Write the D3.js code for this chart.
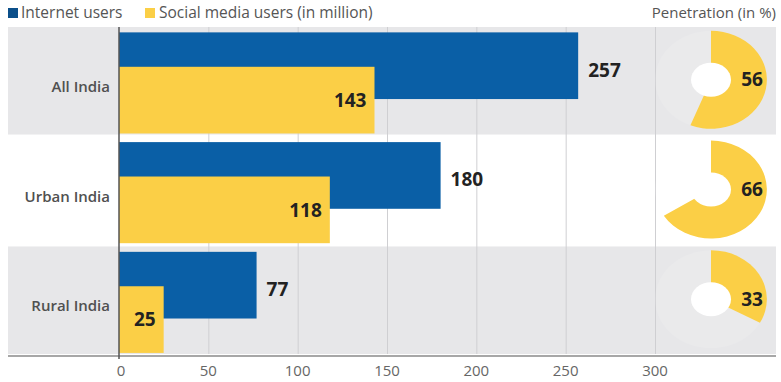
<html>

<head>
    <script src="https://d3js.org/d3.v7.min.js"></script>
    <style>
        body { margin: 0; background: #fff; }
        text { font-family: "Open Sans", sans-serif; }
        .gridlines line { stroke: #cfcfd2; }
        .gridlines .domain { display: none; }
    </style>
</head>

<body>
    <svg height="382" width="781" id="chartSvg"></svg>
    <script>
        // data
        const regions = ["All India", "Urban India", "Rural India"];
        const internetUsers = [257, 180, 77];
        const socialUsers = [143, 118, 25];
        const penetration = [56, 66, 33];
        const xTicks = [0, 50, 100, 150, 200, 250, 300];

        const svg = d3.select("#chartSvg");
        const blue = "#0a5fa6";
        const yellow = "#fbcf46";

        const xScale = d3.scaleLinear().domain([0, 300]).range([119, 655]);
        const yScale = d3.scaleBand().domain(regions).range([27, 354]).paddingInner(0.02);
        const bw = yScale.bandwidth();

        // row backgrounds
        svg.selectAll("rect.band").data(regions)
            .join("rect")
            .attr("class", "band")
            .attr("x", 8)
            .attr("width", 768)
            .attr("y", d => yScale(d))
            .attr("height", bw)
            .attr("fill", (d, i) => i % 2 == 0 ? "#e7e7e9" : "#fff");

        // gridlines
        let grid = d3.axisBottom(xScale).tickValues(xTicks.slice(1)).tickFormat("").tickSize(-(354 - 27));
        svg.append("g")
            .attr("class", "gridlines")
            .attr("transform", "translate(0,354)")
            .call(grid);

        // bars
        svg.selectAll("rect.internet").data(regions)
            .join("rect")
            .attr("class", "internet")
            .attr("x", xScale(0))
            .attr("y", d => yScale(d) + bw * 0.05)
            .attr("height", bw * 0.62)
            .attr("width", (d, i) => xScale(internetUsers[i]) - xScale(0))
            .attr("fill", blue);

        svg.selectAll("rect.social").data(regions)
            .join("rect")
            .attr("class", "social")
            .attr("x", xScale(0))
            .attr("y", d => yScale(d) + bw * 0.37)
            .attr("height", bw * 0.62)
            .attr("width", (d, i) => xScale(socialUsers[i]) - xScale(0))
            .attr("fill", yellow);

        // value labels
        svg.selectAll("text.internetVal").data(regions)
            .join("text")
            .attr("x", (d, i) => xScale(internetUsers[i]) + 10)
            .attr("y", d => yScale(d) + bw * 0.4)
            .attr("dy", "0.35em")
            .style("font-size", "19px")
            .style("font-weight", "bold")
            .style("fill", "#222")
            .text((d, i) => internetUsers[i]);

        svg.selectAll("text.socialVal").data(regions)
            .join("text")
            .attr("x", (d, i) => xScale(socialUsers[i]) - 8)
            .attr("y", d => yScale(d) + bw * 0.68)
            .attr("dy", "0.35em")
            .attr("text-anchor", "end")
            .style("font-size", "19px")
            .style("font-weight", "bold")
            .style("fill", "#222")
            .text((d, i) => socialUsers[i]);

        // category labels
        svg.selectAll("text.cat").data(regions)
            .join("text")
            .attr("x", 110)
            .attr("y", d => yScale(d) + bw / 2 + 6)
            .attr("dy", "0.35em")
            .attr("text-anchor", "end")
            .style("font-size", "15px")
            .style("font-weight", "600")
            .style("fill", "#505050")
            .text(d => d);

        // axis
        svg.append("line")
            .attr("x1", 8).attr("x2", 776)
            .attr("y1", 356).attr("y2", 356)
            .attr("stroke", "#8a8a8a").attr("stroke-width", 1.5);
        svg.append("line")
            .attr("x1", xScale(0)).attr("x2", xScale(0))
            .attr("y1", 27).attr("y2", 359)
            .attr("stroke", "#555").attr("stroke-width", 1.5);

        svg.selectAll("text.tick").data(xTicks)
            .join("text")
            .attr("x", d => xScale(d) + (d == 0 ? 2 : 0))
            .attr("y", 376)
            .attr("text-anchor", "middle")
            .style("font-size", "15px")
            .style("fill", "#666")
            .text(d => d);

        // penetration donuts
        const arc = d3.arc().innerRadius(0).outerRadius(49);
        let donuts = svg.selectAll("g.donut").data(regions)
            .join("g")
            .attr("class", "donut")
            .attr("transform", d => `translate(711,${yScale(d) + bw / 2 - 1})`);

        donuts.append("ellipse")
            .attr("rx", 56).attr("ry", 49)
            .attr("fill", "#fff").attr("opacity", 0.12);

        donuts.append("path")
            .attr("transform", "scale(1.14,1)")
            .attr("d", (d, i) => arc({ startAngle: 0, endAngle: 2 * Math.PI * penetration[i] / 100 }))
            .attr("fill", yellow);

        donuts.append("ellipse")
            .attr("rx", 20).attr("ry", 17)
            .attr("fill", "#fff");

        donuts.append("text")
            .attr("x", 41)
            .attr("y", 0)
            .attr("dy", "0.35em")
            .attr("text-anchor", "middle")
            .style("font-size", "19px")
            .style("font-weight", "bold")
            .style("fill", "#222")
            .text((d, i) => penetration[i]);

        // legend
        svg.append("rect").attr("x", 8).attr("y", 8).attr("width", 10).attr("height", 10).attr("fill", "#0b4f8a");
        svg.append("text").attr("x", 21).attr("y", 18)
            .style("font-size", "15.5px").style("fill", "#555").text("Internet users");
        svg.append("rect").attr("x", 145).attr("y", 8).attr("width", 10).attr("height", 10).attr("fill", yellow);
        svg.append("text").attr("x", 159).attr("y", 18)
            .style("font-size", "15.5px").style("fill", "#555").text("Social media users (in million)");
        svg.append("text").attr("x", 776).attr("y", 18).attr("text-anchor", "end")
            .style("font-size", "15px").style("fill", "#555").text("Penetration (in %)");
    </script>
</body>

</html>
